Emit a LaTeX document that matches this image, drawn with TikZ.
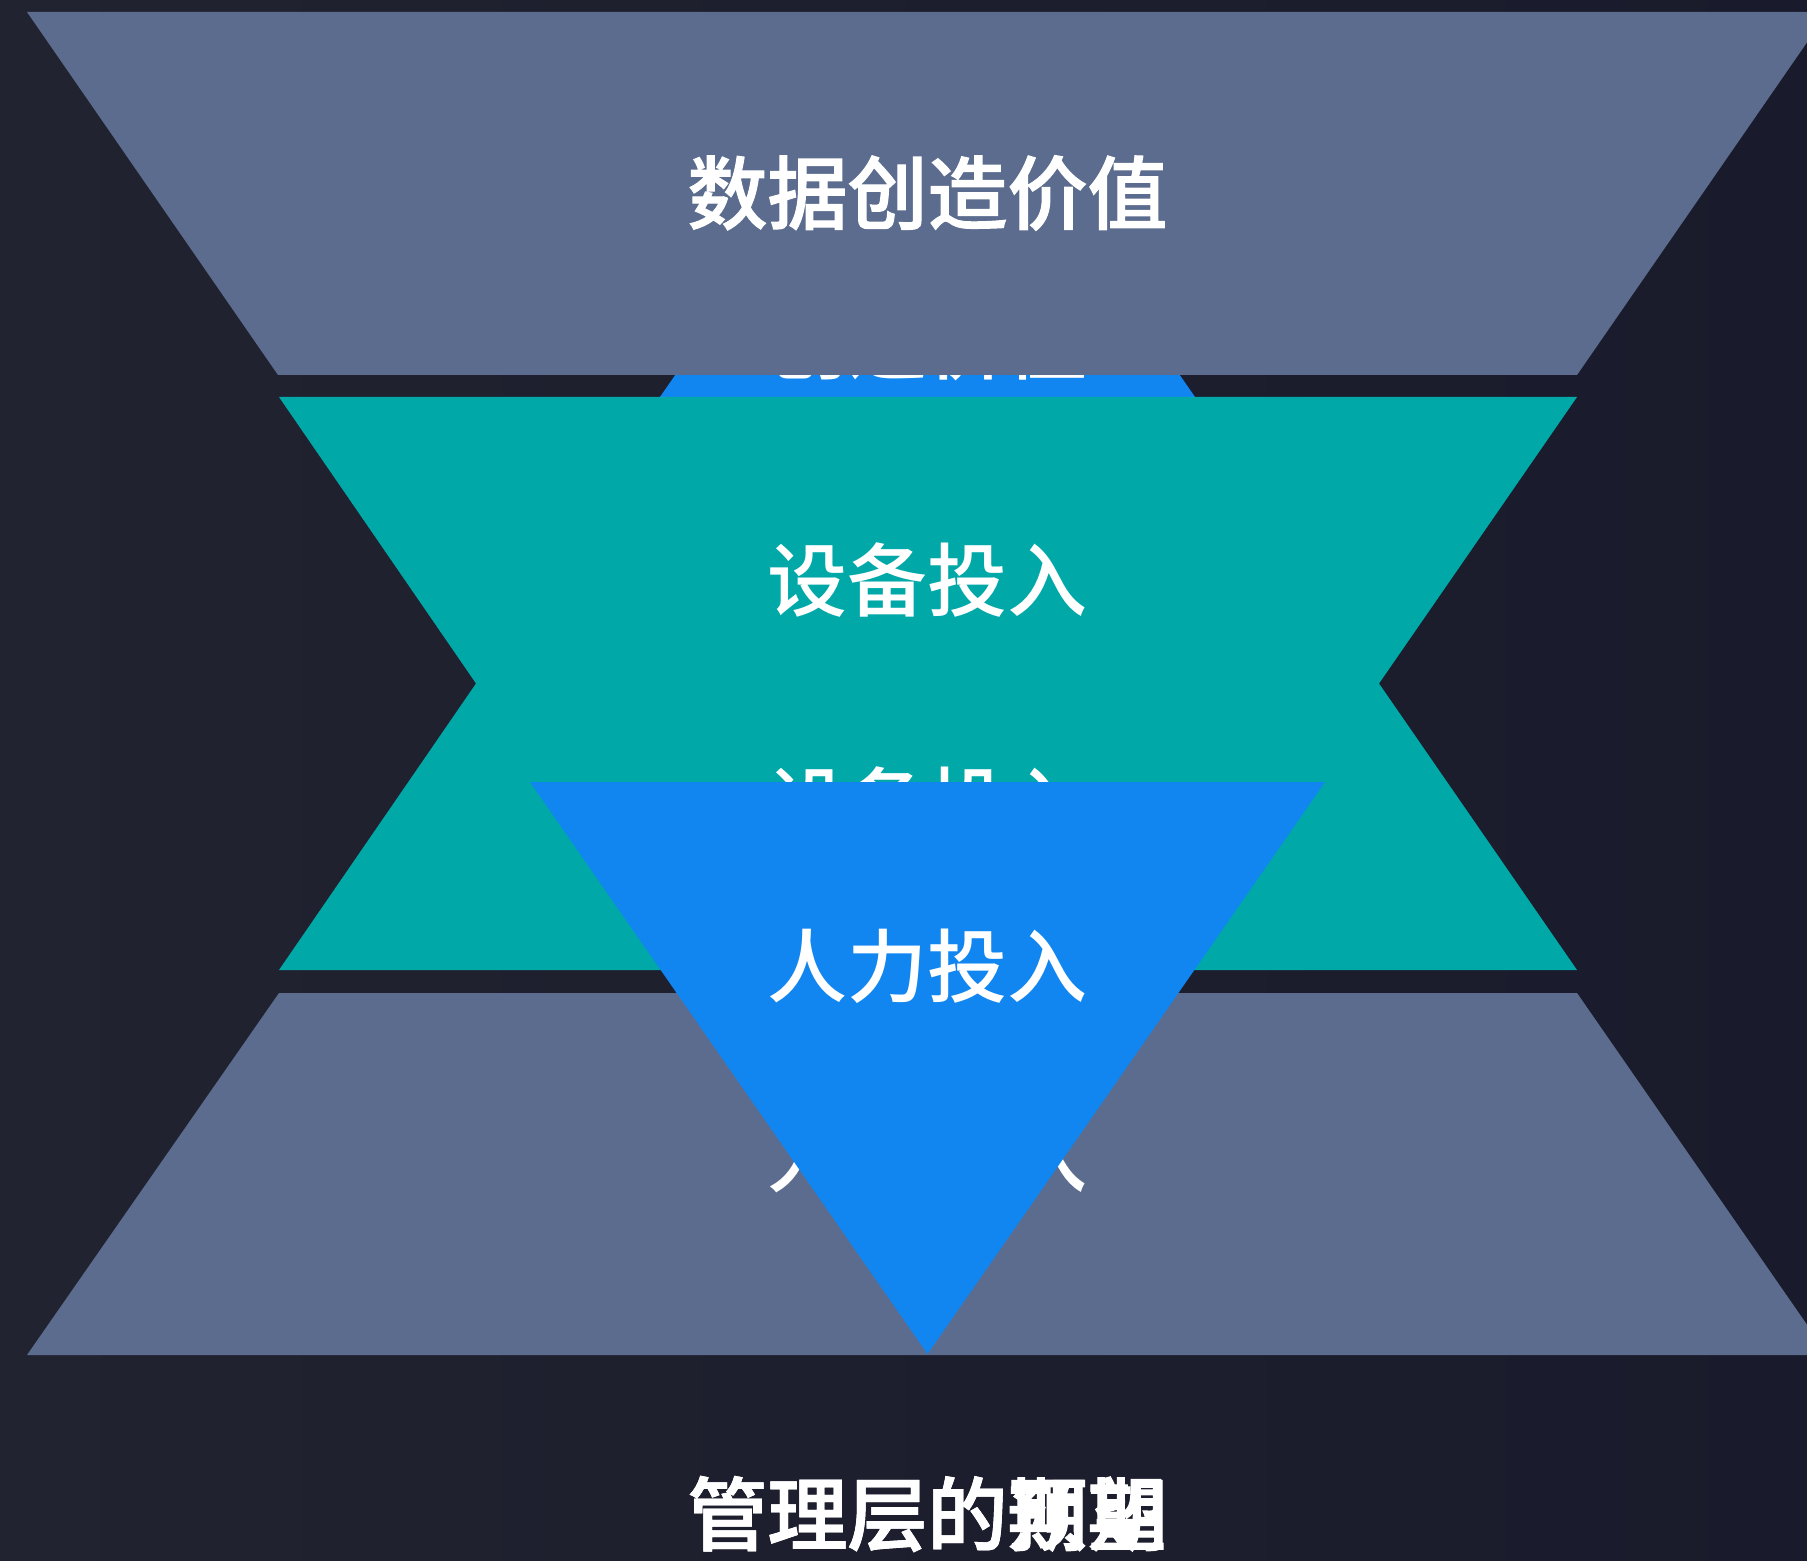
\documentclass[tikz,border=0pt]{standalone}
\usepackage{fontspec}
\newfontfamily\cjkm{Noto Sans CJK SC Medium}
\newfontfamily\cjkt{Noto Sans CJK SC Medium}[FakeBold=1.3]
\definecolor{bgL}{HTML}{222330}
\definecolor{bgR}{HTML}{191A2B}
\definecolor{slate}{HTML}{5B6C8E}
\definecolor{teal}{HTML}{00A8A8}
\definecolor{azure}{HTML}{1186F0}
\tikzset{
  lbl/.style={text=white, inner sep=0pt, font=\cjkm\fontsize{40pt}{40pt}\selectfont},
  lblb/.style={lbl, font=\cjkt\fontsize{40pt}{40pt}\selectfont},
}
\begin{document}
\begin{tikzpicture}[x=0.5pt,y=-0.5pt]
\useasboundingbox (0,0) rectangle (1807,1561);
\shade[left color=bgL, right color=bgR] (0,0) rectangle (1807,1561);
% hidden upward triangle
\fill[azure] (927.5,12) -- (1325,584) -- (530,584) -- cycle;
\node[lbl] (hid) at (927.5,343) {创造价值};
% top trapezoid
\fill[slate] (27,12) -- (1828,12) -- (1577,375) -- (278,375) -- cycle;
\node[lblb] (top) at (927.5,193) {数据创造价值};
% teal hourglass band
\fill[teal] (279,397) -- (1577,397) -- (1379,683.5) -- (1577,970) -- (279,970) -- (476,683.5) -- cycle;
\node[lbl] (dev) at (927.5,580) {设备投入};
\node[lbl] (dev2) at (927.5,804) {设备投入};
% bottom trapezoid
\fill[slate] (279,993) -- (1577,993) -- (1828,1355) -- (27,1355) -- cycle;
\node[lbl] (hum2) at (927.5,1156) {人力投入};
% blue downward triangle
\fill[azure] (530,782) -- (1325,782) -- (927.5,1354) -- cycle;
\node[lbl] (hum) at (927.5,966) {人力投入};
% bottom caption (two overlapping texts)
\node[lblb] (capA) at (927.5,1514) {管理层的期望};
\node[lblb] (capB) at (927.5,1514) {管理层的预期};
\end{tikzpicture}
\end{document}
